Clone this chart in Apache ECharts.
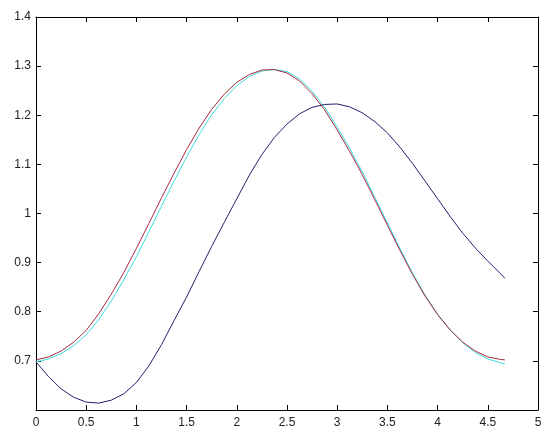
<!DOCTYPE html>
<html>
<head>
<meta charset="utf-8">
<script src="https://cdn.jsdelivr.net/npm/echarts@6/dist/echarts.min.js"></script>
<style>
  html, body { margin: 0; padding: 0; background: #fff; }
</style>
</head>
<body>
<div id="main" style="width: 550px; height: 439px"></div>
<script>
const xs = [0, 0.125, 0.25, 0.375, 0.5, 0.625, 0.75, 0.875, 1.0, 1.125, 1.25, 1.375, 1.5, 1.625, 1.75, 1.875,
  2.0, 2.125, 2.25, 2.375, 2.5, 2.625, 2.75, 2.875, 3.0, 3.125, 3.25, 3.375, 3.5, 3.625, 3.75, 3.875,
  4.0, 4.125, 4.25, 4.375, 4.5, 4.625, 4.67];
const redVals = [0.702, 0.708, 0.720, 0.738, 0.762, 0.796, 0.836, 0.880, 0.929, 0.980, 1.032, 1.082, 1.130, 1.174, 1.212, 1.243,
  1.267, 1.283, 1.292, 1.293, 1.286, 1.270, 1.244, 1.211, 1.170, 1.126, 1.079, 1.028, 0.976, 0.925, 0.876, 0.832,
  0.794, 0.763, 0.738, 0.720, 0.708, 0.703, 0.702];
const cyanVals = [0.698, 0.704, 0.715, 0.731, 0.753, 0.784, 0.822, 0.865, 0.912, 0.963, 1.015, 1.066, 1.115, 1.161, 1.201, 1.234,
  1.260, 1.279, 1.290, 1.293, 1.289, 1.274, 1.249, 1.216, 1.176, 1.132, 1.085, 1.033, 0.981, 0.929, 0.879, 0.834,
  0.795, 0.763, 0.737, 0.717, 0.704, 0.696, 0.694];
const blueVals = [0.698, 0.668, 0.643, 0.626, 0.616, 0.614, 0.620, 0.633, 0.656, 0.690, 0.733, 0.782, 0.830, 0.882, 0.933, 0.982,
  1.030, 1.078, 1.120, 1.155, 1.182, 1.203, 1.216, 1.222, 1.223, 1.217, 1.205, 1.187, 1.164, 1.135, 1.102, 1.066,
  1.030, 0.994, 0.960, 0.930, 0.903, 0.878, 0.868];
const yTicks = [0.7, 0.8, 0.9, 1, 1.1, 1.2, 1.3, 1.4];

function pairs(vals) {
  return xs.map((x, i) => [x, vals[i]]);
}

let myChart = echarts.init(document.getElementById("main"));

const axisLine = { show: true, onZero: false, lineStyle: { color: "#000", width: 1 } };
const tickIn = { show: true, inside: true, length: 5, lineStyle: { color: "#000" } };
const labelFont = { color: "#222", fontSize: 12, fontFamily: "Liberation Sans, Arial, sans-serif" };

let option = {
  animation: false,
  backgroundColor: "#fff",
  grid: { left: 36, right: 12, top: 17, bottom: 29, containLabel: false },
  xAxis: [
    {
      type: "value", min: 0, max: 5, interval: 0.5,
      axisLine: axisLine, axisTick: tickIn, splitLine: { show: false },
      axisLabel: Object.assign({ margin: 7, formatter: (v) => String(v) }, labelFont)
    },
    {
      type: "value", position: "top", min: 0, max: 5, interval: 0.5,
      axisLine: axisLine, axisTick: tickIn, splitLine: { show: false },
      axisLabel: { show: false }
    }
  ],
  yAxis: [
    {
      type: "value", min: 0.6, max: 1.4, interval: 0.1,
      axisLine: axisLine, axisTick: tickIn, splitLine: { show: false },
      axisLabel: Object.assign({
        margin: 5,
        // matlab-like: no label at the cut-off bottom value
        formatter: (v) => {
          const r = Math.round(v * 10) / 10;
          return yTicks.indexOf(r) >= 0 ? String(r) : "";
        }
      }, labelFont)
    },
    {
      type: "value", position: "right", min: 0.6, max: 1.4, interval: 0.1,
      axisLine: axisLine, axisTick: tickIn, splitLine: { show: false },
      axisLabel: { show: false }
    }
  ],
  series: [
    {
      name: "cyan", type: "line", data: pairs(cyanVals),
      showSymbol: false, lineStyle: { color: "#3fdcdc", width: 1 }
    },
    {
      name: "red", type: "line", data: pairs(redVals),
      showSymbol: false, lineStyle: { color: "#a52a40", width: 1 }
    },
    {
      name: "blue", type: "line", data: pairs(blueVals),
      showSymbol: false, lineStyle: { color: "#22226e", width: 1 }
    }
  ]
};

myChart.setOption(option);
</script>
</body>
</html>
